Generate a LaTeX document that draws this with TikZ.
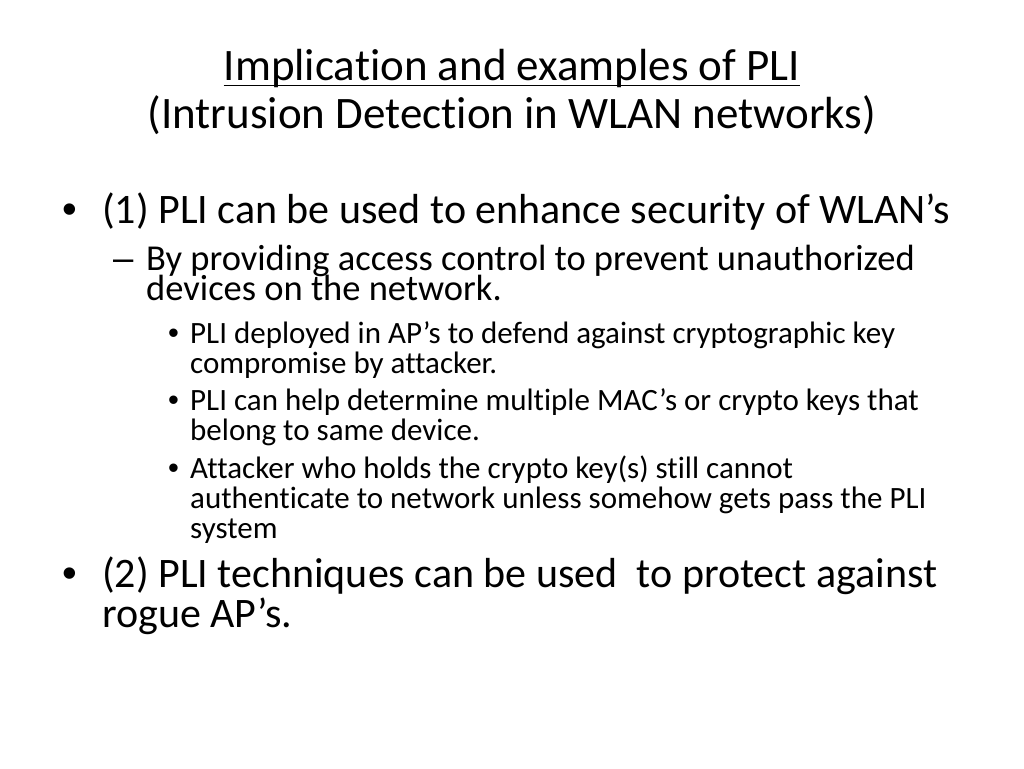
\documentclass[tikz,border=0pt]{standalone}
\usepackage{fontspec}
\setmainfont[Ligatures=NoCommon]{Carlito}
\newfontfamily\bulfont{Liberation Sans}
\newcommand{\ttlfont}{\fontsize{45}{48}\selectfont}
\newcommand{\onefont}{\fontsize{42}{40}\selectfont}
\newcommand{\twofont}{\fontsize{36.5}{30}\selectfont}
\newcommand{\threefont}{\fontsize{31}{30}\selectfont}
\tikzset{
  txtline/.style={anchor=base west, inner sep=0pt},
  ttl/.style={anchor=base, inner sep=0pt, font=\ttlfont},
  lvlone/.style={txtline, font=\onefont},
  lvltwo/.style={txtline, font=\twofont},
  lvlthree/.style={txtline, font=\threefont},
  mark one/.style={lvlone, font=\onefont\bulfont},
  mark two/.style={lvltwo, font=\twofont\bulfont},
  mark three/.style={lvlthree, font=\threefont\bulfont}
}
\begin{document}
\begin{tikzpicture}[x=1pt,y=-1pt]
  \useasboundingbox (0,0) rectangle (1024,768);
  % title
  \node[ttl] (title1) at (512,80) {Implication and examples of PLI};
  \node[ttl] (title2) at (512,128) {(Intrusion Detection in WLAN networks)};
  \draw[line width=1.8pt] ([yshift=-5.5pt]title1.base west) -- ([yshift=-5.5pt]title1.base east);
  % first point
  \node[mark one] (dot1) at (62,223) {•};
  \node[lvlone] (pt1) at (102,223) {(1) PLI can be used to enhance security of WLAN’s};
  \node[mark two] (dash1) at (113,270) {–};
  \node[lvltwo] (sub1a) at (146,270) {By providing access control to prevent unauthorized};
  \node[lvltwo] (sub1b) at (146,300) {devices on the network.};
  % third level
  \node[mark three] (dotA) at (168,343) {•};
  \node[lvlthree] (subA1) at (190,343) {PLI deployed in AP’s to defend against cryptographic key};
  \node[lvlthree] (subA2) at (190,373) {compromise by attacker.};
  \node[mark three] (dotB) at (168,410) {•};
  \node[lvlthree] (subB1) at (190,410) {PLI can help determine multiple MAC’s or crypto keys that};
  \node[lvlthree] (subB2) at (190,440) {belong to same device.};
  \node[mark three] (dotC) at (168,478) {•};
  \node[lvlthree] (subC1) at (190,478) {Attacker who holds the crypto key(s) still cannot};
  \node[lvlthree] (subC2) at (190,508) {authenticate to network unless somehow gets pass the PLI};
  \node[lvlthree] (subC3) at (190,538) {system};
  % second point
  \node[mark one] (dot2) at (62,587) {•};
  \node[lvlone] (pt2a) at (102,587) {(2) PLI techniques can be used\ \ to protect against};
  \node[lvlone] (pt2b) at (102,627) {rogue AP’s.};
\end{tikzpicture}
\end{document}
